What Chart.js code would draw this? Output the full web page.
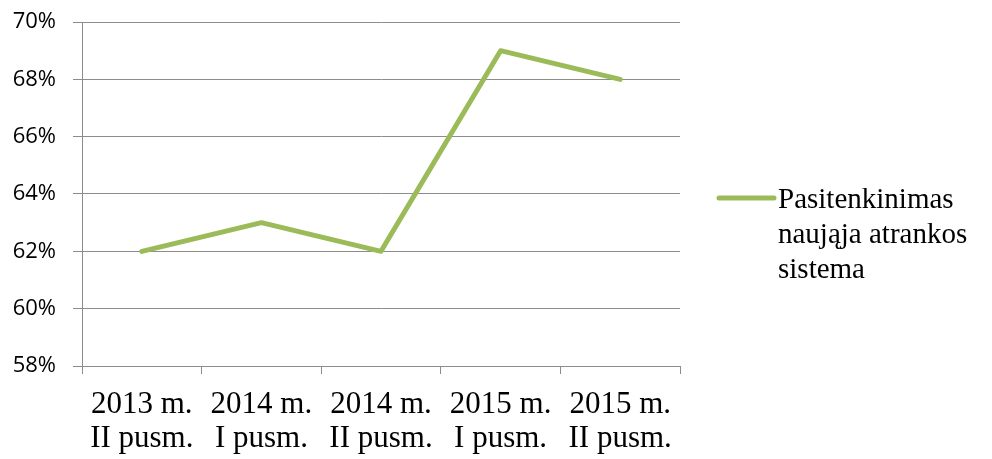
<!DOCTYPE html>
<html>
<head>
<meta charset="utf-8">
<script src="https://cdn.jsdelivr.net/npm/chart.js@4/dist/chart.umd.min.js"></script>
<style>
html,body{margin:0;padding:0;background:#fff;}
#wrap{width:992px;height:459px;position:relative;}
</style>
</head>
<body>
<div id="wrap"><canvas id="c" width="992" height="459"></canvas></div>
<script>
const categories = [["2013 m.","II pusm."],["2014 m.","I pusm."],["2014 m.","II pusm."],["2015 m.","I pusm."],["2015 m.","II pusm."]];
const seriesLabel = ["Pasitenkinimas","naująja atrankos","sistema"];
const seriesValues = [0.62, 0.63, 0.62, 0.69, 0.68];
const yTicks = [0.58, 0.60, 0.62, 0.64, 0.66, 0.68, 0.70];

const GRID = '#8c8c8c';
const GREEN = '#9bbb59';
const SERIF = '"Liberation Serif", "Times New Roman", serif';

const legendPlugin = {
  id: 'sideLegend',
  afterDraw(chart) {
    const ctx = chart.ctx;
    const ds = chart.data.datasets[0];
    const lines = ds.legendLines;
    const x0 = 719, x1 = 774, y = 198;
    ctx.save();
    ctx.strokeStyle = ds.borderColor;
    ctx.lineWidth = 5;
    ctx.lineCap = 'round';
    ctx.beginPath();
    ctx.moveTo(x0, y);
    ctx.lineTo(x1, y);
    ctx.stroke();
    ctx.fillStyle = '#000';
    ctx.font = '29px ' + SERIF;
    ctx.textBaseline = 'alphabetic';
    ctx.textAlign = 'left';
    lines.forEach((t, i) => ctx.fillText(t, 778, 208 + i * 35));
    ctx.restore();
  }
};

new Chart(document.getElementById('c'), {
  type: 'line',
  data: {
    labels: categories,
    datasets: [{
      label: seriesLabel.join(' '),
      legendLines: seriesLabel,
      data: seriesValues,
      borderColor: GREEN,
      borderWidth: 5,
      pointRadius: 0,
      tension: 0,
      borderCapStyle: 'round',
      borderJoinStyle: 'round',
      fill: false
    }]
  },
  options: {
    responsive: false,
    animation: false,
    devicePixelRatio: 1,
    layout: { padding: { top: 22, right: 312, left: 0, bottom: 0 } },
    plugins: { legend: { display: false }, tooltip: { enabled: false } },
    scales: {
      x: {
        offset: true,
        grid: { display: true, drawOnChartArea: false, drawTicks: true, tickLength: 8, color: GRID, offset: true },
        border: { display: true, color: GRID, width: 1 },
        ticks: { color: '#000', font: { family: SERIF, size: 31, lineHeight: 1.1 }, padding: 14, maxRotation: 0, autoSkip: false },
        afterFit(scale) { scale.height = 93; scale.paddingLeft = 0; scale.paddingRight = 0; }
      },
      y: {
        min: 0.58, max: 0.70,
        afterBuildTicks(scale) { scale.ticks = yTicks.map(v => ({ value: v })); },
        grid: { color: GRID, tickLength: 9, lineWidth: 1 },
        border: { display: true, color: GRID, width: 1 },
        ticks: {
          color: '#000',
          font: { family: '"Open Sans", sans-serif', size: 22 },
          padding: 17,
          callback: v => Math.round(v * 100) + '%'
        },
        afterFit(scale) { scale.width = 82; scale.paddingTop = 0; scale.paddingBottom = 0; }
      }
    }
  },
  plugins: [legendPlugin]
});
</script>
</body>
</html>
